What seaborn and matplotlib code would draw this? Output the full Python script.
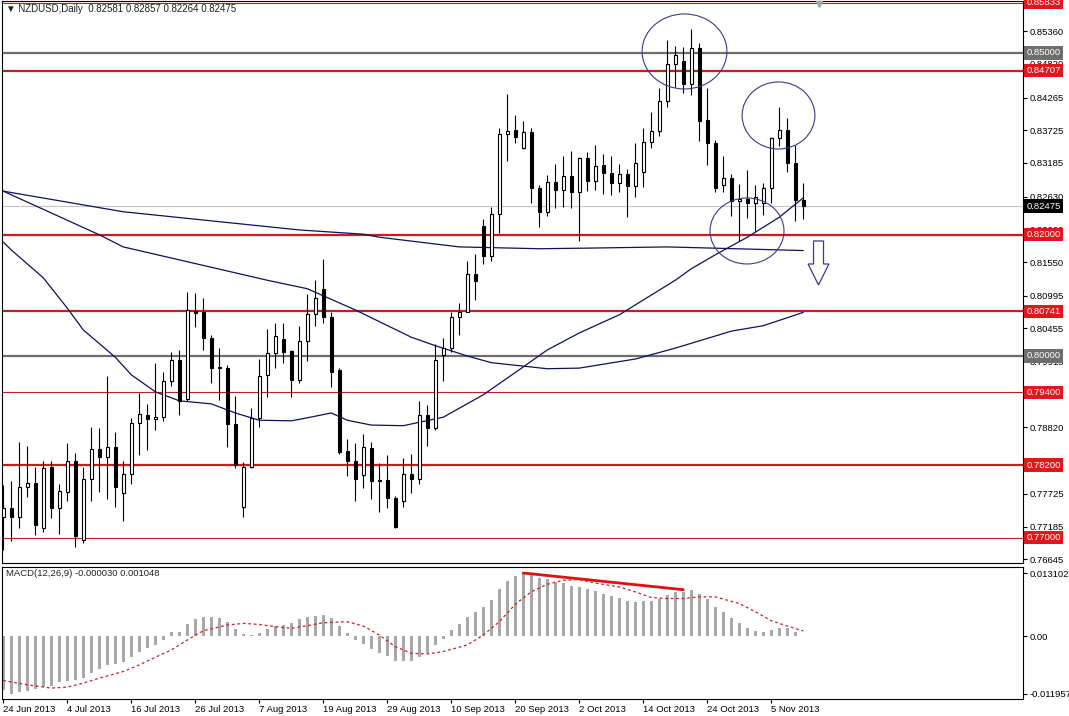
import matplotlib
matplotlib.use("Agg")
import matplotlib.pyplot as plt
import matplotlib.transforms as mtransforms
from matplotlib.patches import Ellipse, Polygon
import numpy as np
import pandas as pd
import seaborn as sns

# ---- NZDUSD daily candles (24 Jun 2013 .. 11 Nov 2013) ----
open_ = [0.7735, 0.7749, 0.7734, 0.7783, 0.7790, 0.7716, 0.7817, 0.7749, 0.7776, 0.7827,
         0.7696, 0.7797, 0.7846, 0.7833, 0.7849, 0.7774, 0.7805, 0.7889, 0.7903, 0.7896,
         0.7899, 0.7958, 0.7993, 0.7929, 0.8075, 0.8072, 0.8029, 0.7982, 0.7981, 0.7888,
         0.7750, 0.7817, 0.7897, 0.7968, 0.8005, 0.8028, 0.8009, 0.7960, 0.8025, 0.8069,
         0.8110, 0.8064, 0.7977, 0.7843, 0.7827, 0.7803, 0.7848, 0.7795, 0.7795, 0.7765,
         0.7760, 0.7805, 0.7797, 0.7903, 0.7881, 0.8002, 0.8013, 0.8064, 0.8073, 0.8135,
         0.8215, 0.8165, 0.8234, 0.8366, 0.8373, 0.8344, 0.8370, 0.8277, 0.8237, 0.8287,
         0.8274, 0.8297, 0.8271, 0.8326, 0.8289, 0.8315, 0.8302, 0.8285, 0.8300, 0.8281,
         0.8303, 0.8353, 0.8372, 0.8420, 0.8482, 0.8487, 0.8449, 0.8509, 0.8389, 0.8351,
         0.8282, 0.8293, 0.8255, 0.8259, 0.8252, 0.8252, 0.8278, 0.8359, 0.8373, 0.8318,
         0.82581]
high = [0.7787, 0.7794, 0.7858, 0.7852, 0.7817, 0.7827, 0.7827, 0.7789, 0.7857, 0.7840,
        0.7817, 0.7883, 0.7881, 0.7967, 0.7875, 0.7826, 0.7897, 0.7939, 0.7921, 0.7988,
        0.7974, 0.8006, 0.8010, 0.8105, 0.8104, 0.8095, 0.8035, 0.8013, 0.7985, 0.7934,
        0.7825, 0.7915, 0.7995, 0.8044, 0.8054, 0.8054, 0.8010, 0.8050, 0.8102, 0.8125,
        0.8160, 0.8072, 0.7980, 0.7863, 0.7856, 0.7871, 0.7858, 0.7823, 0.7837, 0.7769,
        0.7831, 0.7838, 0.7926, 0.7919, 0.8020, 0.8029, 0.8072, 0.8087, 0.8156, 0.8168,
        0.8226, 0.8246, 0.8377, 0.8432, 0.8398, 0.8387, 0.8376, 0.8282, 0.8299, 0.8317,
        0.8330, 0.8339, 0.8329, 0.8337, 0.8348, 0.8333, 0.8330, 0.8317, 0.8308, 0.8352,
        0.8377, 0.8403, 0.8443, 0.8521, 0.8512, 0.8510, 0.8539, 0.8516, 0.8442, 0.8356,
        0.8330, 0.8300, 0.8284, 0.8307, 0.8282, 0.8286, 0.8362, 0.8411, 0.8392, 0.8348,
        0.82857]
low = [0.7680, 0.7694, 0.7716, 0.7768, 0.7705, 0.7709, 0.7732, 0.7706, 0.7760, 0.7685,
       0.7691, 0.7760, 0.7776, 0.7764, 0.7750, 0.7728, 0.7789, 0.7837, 0.7845, 0.7878,
       0.7892, 0.7951, 0.7903, 0.7925, 0.8048, 0.8010, 0.7955, 0.7927, 0.7850, 0.7815,
       0.7734, 0.7815, 0.7882, 0.7932, 0.7981, 0.7989, 0.7932, 0.7955, 0.7992, 0.8050,
       0.8055, 0.7949, 0.7838, 0.7802, 0.7760, 0.7782, 0.7764, 0.7742, 0.7749, 0.7716,
       0.7751, 0.7774, 0.7789, 0.7852, 0.7878, 0.7958, 0.8006, 0.8035, 0.8072, 0.8092,
       0.8152, 0.8156, 0.8203, 0.8322, 0.8351, 0.8341, 0.8252, 0.8213, 0.8231, 0.8244,
       0.8246, 0.8244, 0.8189, 0.8273, 0.8274, 0.8267, 0.8266, 0.8270, 0.8229, 0.8263,
       0.8279, 0.8344, 0.8363, 0.8411, 0.8444, 0.8434, 0.8431, 0.8354, 0.8315, 0.8271,
       0.8270, 0.8231, 0.8189, 0.8227, 0.8207, 0.8233, 0.8253, 0.8347, 0.8303, 0.8222,
       0.82264]
close_ = [0.7749, 0.7734, 0.7783, 0.7790, 0.7721, 0.7815, 0.7749, 0.7777, 0.7827, 0.7703,
          0.7797, 0.7846, 0.7833, 0.7850, 0.7784, 0.7805, 0.7889, 0.7904, 0.7896, 0.7899,
          0.7958, 0.7993, 0.7926, 0.8076, 0.8071, 0.8029, 0.7981, 0.7981, 0.7888, 0.7820,
          0.7817, 0.7897, 0.7967, 0.8005, 0.8033, 0.8007, 0.7960, 0.8025, 0.8069, 0.8095,
          0.8064, 0.7974, 0.7842, 0.7826, 0.7797, 0.7849, 0.7793, 0.7794, 0.7765, 0.7717,
          0.7805, 0.7797, 0.7903, 0.7881, 0.7993, 0.8013, 0.8064, 0.8073, 0.8135, 0.8123,
          0.8165, 0.8234, 0.8366, 0.8371, 0.8362, 0.8370, 0.8277, 0.8237, 0.8287, 0.8274,
          0.8297, 0.8271, 0.8326, 0.8289, 0.8314, 0.8302, 0.8285, 0.8300, 0.8281, 0.8318,
          0.8353, 0.8372, 0.8420, 0.8482, 0.8497, 0.8449, 0.8509, 0.8388, 0.8351, 0.8277,
          0.8293, 0.8255, 0.8259, 0.8252, 0.8263, 0.8278, 0.8359, 0.8373, 0.8318, 0.8258,
          0.82475]
dates = pd.bdate_range("2013-06-24", periods=len(close_))

# moving averages (bar index, value)
ma_slow_x = [0, 15, 37, 45, 47, 57, 67, 73, 83, 100]
ma_slow_y = [0.8272, 0.8238, 0.8208, 0.8201, 0.8196, 0.8180, 0.8177, 0.8178, 0.8180, 0.8174]
ma_mid_x = [0, 12, 15, 33, 38, 44, 51, 54, 58, 61, 68, 72, 79, 84, 87, 91, 95, 100]
ma_mid_y = [0.8272, 0.8200, 0.8180, 0.8125, 0.8111, 0.8076, 0.8031, 0.8017, 0.8000, 0.7989,
            0.7979, 0.7980, 0.7995, 0.8013, 0.8025, 0.8041, 0.8050, 0.8072]
ma_fast_x = [0, 1, 5, 8, 10, 14, 16, 19, 22, 26, 29, 32, 36, 38, 41, 43, 46, 50, 55, 60,
             65, 68, 72, 77, 84, 86, 89, 93, 97, 100]
ma_fast_y = [0.8188, 0.8175, 0.8129, 0.8079, 0.8043, 0.7998, 0.7969, 0.7941, 0.7926, 0.7921,
             0.7906, 0.7894, 0.7893, 0.7898, 0.7906, 0.7894, 0.7886, 0.7885, 0.7899, 0.7936,
             0.7982, 0.8010, 0.8038, 0.8068, 0.8125, 0.8144, 0.8167, 0.8196, 0.8229, 0.8261]

# horizontal levels and their label boxes
levels = [0.85833, 0.85000, 0.84707, 0.82475, 0.82000, 0.80741, 0.80000, 0.79400, 0.78200, 0.77000]
level_kind = ["thin", "round", "thick", "price", "thick", "thick", "round", "thin", "thick", "thin"]
axis_ticks = [0.85360, 0.84820, 0.84265, 0.83725, 0.83185, 0.82630, 0.82090, 0.81550, 0.80995,
              0.80455, 0.79915, 0.79360, 0.78820, 0.78280, 0.77725, 0.77185, 0.76645]

# MACD(12,26,9) histogram per bar and signal line points
macd_hist = [-0.01118, -0.01196, -0.01173, -0.01152, -0.01104, -0.01070, -0.01035, -0.00966, -0.00945, -0.00925,
             -0.00876, -0.00759, -0.00676, -0.00600, -0.00580, -0.00531, -0.00428, -0.00324, -0.00242, -0.00179,
             -0.00083, 0.00083, 0.00090, 0.00248, 0.00352, 0.00386, 0.00386, 0.00366, 0.00283, 0.00145,
             0.00035, 0.00020, 0.00069, 0.00145, 0.00207, 0.00228, 0.00262, 0.00345, 0.00400, 0.00414,
             0.00435, 0.00366, 0.00207, 0.00055, -0.00083, -0.00166, -0.00276, -0.00345, -0.00414, -0.00511,
             -0.00511, -0.00511, -0.00428, -0.00345, -0.00186, -0.00055, 0.00124, 0.00248, 0.00386, 0.00490,
             0.00593, 0.00745, 0.00973, 0.01145, 0.01242, 0.01310, 0.01297, 0.01214, 0.01180, 0.01125,
             0.01100, 0.01035, 0.01020, 0.00973, 0.00932, 0.00883, 0.00835, 0.00794, 0.00731, 0.00710,
             0.00731, 0.00731, 0.00766, 0.00856, 0.00918, 0.00918, 0.00952, 0.00869, 0.00766, 0.00607,
             0.00497, 0.00380, 0.00276, 0.00173, 0.00104, 0.00090, 0.00124, 0.00159, 0.00159, 0.00076,
             -0.00003]
signal_x = [0, 3, 6, 8, 10, 12, 15, 17, 19, 21, 23, 25, 28, 30, 32, 34, 36, 38, 40, 43, 45, 47,
            49, 51, 53, 55, 58, 60, 62, 64, 66, 68, 70, 72, 74, 77, 79, 81, 83, 85, 87, 89,
            92, 94, 96, 98, 100]
signal_y = [-0.00925, -0.01014, -0.01083, -0.01063, -0.00980, -0.00876, -0.00738, -0.00600, -0.00442,
            -0.00290, -0.00083, 0.00110, 0.00228, 0.00262, 0.00241, 0.00193, 0.00159, 0.00214, 0.00276,
            0.00297, 0.00207, 0.00020, -0.00221, -0.00359, -0.00373, -0.00324, -0.00186, 0.00020,
            0.00297, 0.00660, 0.00920, 0.01076, 0.01159, 0.01173, 0.01100, 0.01020, 0.00918, 0.00800,
            0.00780, 0.00780, 0.00814, 0.00814, 0.00676, 0.00504, 0.00317, 0.00207, 0.00105]
div_x = [65, 85]
div_y = [0.01310, 0.00963]

# analyst drawings: ellipses (bar, price, width in bars, height in price) and the down arrow
ellipses = [(85.15, 0.85025, 10.6, 0.01238), (96.9, 0.83969, 9.1, 0.01106), (92.96, 0.82063, 9.25, 0.01089)]
arrow_bar = 101.9
arrow_top, arrow_neck, arrow_tip = 0.81898, 0.81518, 0.81172

sns.set_theme(style="white")
plt.rcParams["font.family"] = ["Liberation Sans", "DejaVu Sans"]

W, H = 1069, 716
fig = plt.figure(figsize=(W / 100, H / 100), dpi=100)
ax = fig.add_axes([2 / W, 1 - 563 / H, 1021 / W, 562 / H])
axm = fig.add_axes([2 / W, 1 - 699 / H, 1021 / W, 132 / H])

idx = np.arange(len(close_))
o, h, l, c = map(np.array, (open_, high, low, close_))
up = c > o

# candles
ax.vlines(idx, l, h, color="black", lw=0.8, zorder=4)
ax.bar(idx[up], (c - o)[up], bottom=o[up], width=0.42, color="white",
       edgecolor="black", lw=0.8, zorder=5)
ax.bar(idx[~up], np.maximum((o - c)[~up], 0.00004), bottom=c[~up], width=0.42,
       color="black", edgecolor="black", lw=0.8, zorder=5)

# moving averages
navy = "#10105e"
for mx, my in ((ma_slow_x, ma_slow_y), (ma_mid_x, ma_mid_y), (ma_fast_x, ma_fast_y)):
    sns.lineplot(x=mx, y=my, ax=ax, color=navy, lw=0.9, zorder=3)

# horizontal levels
red, red_box, grey = "#c41e1e", "#e4161c", "#6e6e6e"
styles = {"thin": (red, 0.8, red_box), "thick": (red, 1.6, red_box),
          "round": (grey, 1.6, grey), "price": ("#c4c4c4", 0.8, "black")}
ytr = mtransforms.blended_transform_factory(ax.transAxes, ax.transData)
for lv, kind in zip(levels, level_kind):
    col, lw, box = styles[kind]
    ax.axhline(lv, color=col, lw=lw, zorder=2)
    ax.text(1.0035, lv, f"{lv:.5f}", transform=ytr, ha="left", va="center", fontsize=6.8,
            color="white", clip_on=False, zorder=10,
            bbox=dict(boxstyle="square,pad=0.22", fc=box, ec="none"))

# drawings
for cx, cy, ew, eh in ellipses:
    ax.add_patch(Ellipse((cx, cy), ew, eh, fill=False, ec="#3a3a8c", lw=0.8, zorder=6))
aw, hw = 0.625, 1.3
ax.add_patch(Polygon([(arrow_bar - aw, arrow_top), (arrow_bar + aw, arrow_top),
                      (arrow_bar + aw, arrow_neck), (arrow_bar + hw, arrow_neck),
                      (arrow_bar, arrow_tip), (arrow_bar - hw, arrow_neck),
                      (arrow_bar - aw, arrow_neck)], closed=True, fc="white",
                     ec="#3a3a8c", lw=0.9, zorder=6))
ax.plot([arrow_bar], [0.995], marker="v", ms=4, color="#a8a8a8",
        transform=mtransforms.blended_transform_factory(ax.transData, ax.transAxes),
        clip_on=False, zorder=7)

ax.text(0.004, 0.986, "▼ NZDUSD,Daily  0.82581 0.82857 0.82264 0.82475",
        transform=ax.transAxes, fontsize=7, va="center", ha="left", color="#202020")

ax.set_xlim(-0.16, 127.46)
ax.set_ylim(0.76584, 0.85858)
ax.set_xticks([])
ax.yaxis.tick_right()
ax.set_yticks(axis_ticks)
ax.set_yticklabels([f"{t:.5f}" for t in axis_ticks])
ax.tick_params(axis="y", right=True, length=3, width=0.8, direction="out", pad=2,
               labelsize=6.8, colors="black")
ax.set_xlabel("")
ax.set_ylabel("")

# MACD panel
sns.barplot(x=idx, y=macd_hist, native_scale=True, color="#a8a8a8", width=0.38,
            errorbar=None, saturation=1, linewidth=0, ax=axm)
sns.lineplot(x=signal_x, y=signal_y, ax=axm, color="#cc1f1f", lw=0.9,
             linestyle=(0, (2.2, 2.2)))
sns.lineplot(x=div_x, y=div_y, ax=axm, color="#e01010", lw=2.0)
axm.text(0.004, 0.947, "MACD(12,26,9) -0.000030 0.001048", transform=axm.transAxes,
         fontsize=6.8, va="center", ha="left", color="#202020")
axm.set_xlim(-0.16, 127.46)
axm.set_ylim(-0.0131, 0.01435)
axm.yaxis.tick_right()
axm.set_yticks([0.013102, 0.0, -0.011957])
axm.set_yticklabels(["0.013102", "0.00", "-0.011957"])
axm.tick_params(axis="y", right=True, length=3, width=0.8, direction="out", pad=2,
                labelsize=6.8, colors="black")
axm.set_xticks(idx[::8])
axm.set_xticklabels([f"{d.day} {d:%b %Y}" for d in dates[::8]], ha="left")
axm.tick_params(axis="x", bottom=True, length=3, width=0.8, direction="out", pad=1,
                labelsize=6.8, colors="black")
axm.set_xlabel("")
axm.set_ylabel("")

for a in (ax, axm):
    a.grid(False)
    a.set_facecolor("white")
    for s in a.spines.values():
        s.set_color("black")
        s.set_linewidth(0.8)

fig.savefig("out.png", dpi=100, facecolor="white")
